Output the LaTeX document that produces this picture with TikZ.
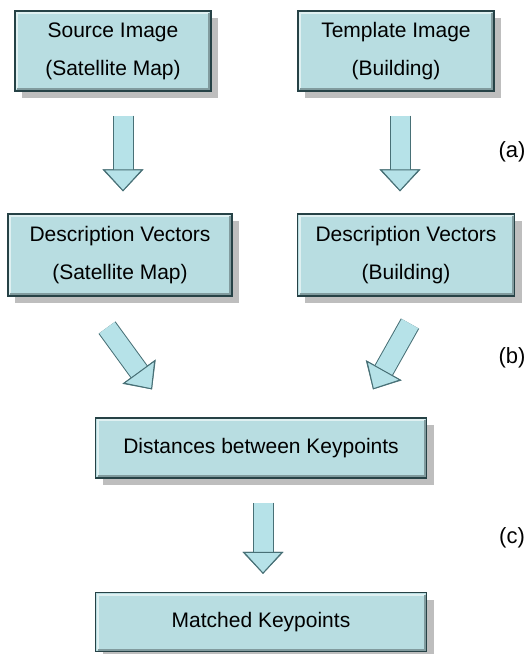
\documentclass[tikz,border=0pt]{standalone}
\usepackage{fontspec}
\setmainfont{Liberation Sans}
\usetikzlibrary{arrows.meta,shadows}
\definecolor{boxfill}{RGB}{184,221,225}
\definecolor{boxedge}{RGB}{38,66,70}
\definecolor{shadowgray}{RGB}{190,190,190}
\definecolor{arrowfill}{RGB}{182,226,232}
\definecolor{arrowedge}{RGB}{72,112,118}
\begin{document}
\begin{tikzpicture}[
      x=1pt, y=-1pt,
      font=\fontsize{21}{38}\selectfont,
      stepbox/.style={draw=boxedge, line width=1.2pt, fill=boxfill,
        align=center, inner sep=0pt,
        drop shadow={shadow xshift=7pt, shadow yshift=-7pt,
          fill=shadowgray, opacity=1},
        path picture={
          \draw [white!55!boxfill, line width=2pt]
            ([shift={(2pt,2pt)}]path picture bounding box.south west)
            |- ([shift={(-2pt,-2pt)}]path picture bounding box.north east);
          \draw [boxfill!70!black, line width=2pt]
            ([shift={(2pt,2pt)}]path picture bounding box.south west)
            -| ([shift={(-2pt,-2pt)}]path picture bounding box.north east);
        }},
      bigarrow/.style={line width=19pt, draw=arrowfill,
        -{Triangle[length=22pt, width=40pt, fill=arrowfill,
          color=arrowedge, line width=1pt 0]},
        preaction={draw=arrowedge, line width=21pt,
          -{Triangle[length=22pt, width=40pt]}}},
      steplabel/.style={font=\fontsize{22}{26}\selectfont}
    ]
      \useasboundingbox (0,0) rectangle (528,654);

      \node (Source) at (113,51) [stepbox, minimum width=196pt, minimum height=80pt]
        {Source Image\\(Satellite Map)};
      \node (Template) at (396,51) [stepbox, minimum width=196pt, minimum height=80pt]
        {Template Image\\(Building)};
      \node (DescMap) at (120,255) [stepbox, minimum width=224pt, minimum height=82pt]
        {Description Vectors\\(Satellite Map)};
      \node (DescBuilding) at (406,255) [stepbox, minimum width=217pt, minimum height=82pt]
        {Description Vectors\\(Building)};
      \node (Distances) at (261,448) [stepbox, minimum width=331pt, minimum height=60pt]
        {Distances between Keypoints};
      \node (Matched) at (261,622) [stepbox, minimum width=331pt, minimum height=59pt]
        {Matched Keypoints};

      % block arrows
      \draw [bigarrow, shorten <=24pt, shorten >=22pt]
        ([xshift=10pt]Source.south) -- ([xshift=10pt]Source.south |- DescMap.north);
      \draw [bigarrow, shorten <=24pt, shorten >=22pt]
        ([xshift=4pt]Template.south) -- ([xshift=4pt]Template.south |- DescBuilding.north);
      \draw [bigarrow]
        ([xshift=-13pt, yshift=-31pt]DescMap.south) -- ([xshift=-109pt, yshift=28pt]Distances.north);
      \draw [bigarrow]
        ([xshift=4pt, yshift=-27pt]DescBuilding.south) -- ([xshift=112pt, yshift=28pt]Distances.north);
      \draw [bigarrow, shorten <=24pt, shorten >=18pt]
        ([xshift=2pt]Distances.south) -- ([xshift=2pt]Distances.south |- Matched.north);

      \node (LabelA) at (512,152) [steplabel] {(a)};
      \node (LabelB) at (512,358) [steplabel] {(b)};
      \node (LabelC) at (512,538) [steplabel] {(c)};
    \end{tikzpicture}
\end{document}
